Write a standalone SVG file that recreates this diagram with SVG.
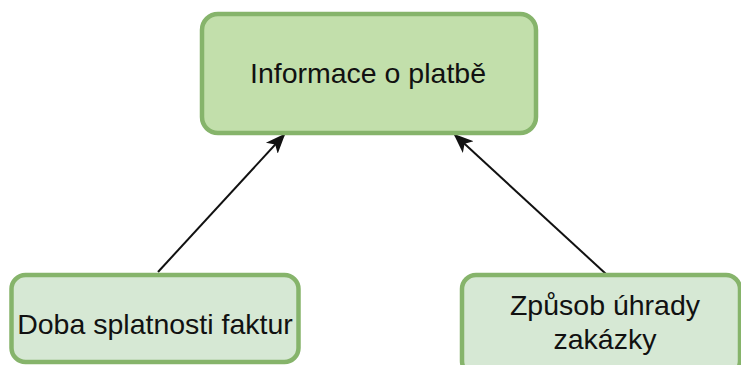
<svg xmlns="http://www.w3.org/2000/svg" width="741" height="365" viewBox="0 0 741 365">
  <style>
    .box { stroke: #86b46b; stroke-width: 4.5; }
    .main { fill: #c2dfab; }
    .sub { fill: #d6e8d4; }
    .label { font-family: "Liberation Sans", Arial, sans-serif; font-size: 28.5px; fill: #111; text-anchor: middle; }
    .edge { stroke: #111; stroke-width: 2; fill: none; marker-end: url(#arrowHead); }
  </style>
  <defs>
    <marker id="arrowHead" viewBox="0 0 20 20" refX="18" refY="10" markerWidth="20" markerHeight="20" markerUnits="userSpaceOnUse" orient="auto">
      <path d="M0,2 L20,10 L0,18 L5,10 Z" fill="#111"/>
    </marker>
  </defs>

  <g id="connectors">
    <line class="edge" x1="158" y1="272" x2="284" y2="135"/>
    <line class="edge" x1="606" y1="274" x2="455" y2="135"/>
  </g>

  <g id="informace-o-platbe">
    <rect class="box main" x="202" y="14" width="334" height="119" rx="16" ry="16"/>
    <text class="label" x="368" y="83">Informace o platbě</text>
  </g>

  <g id="doba-splatnosti">
    <rect class="box sub" x="11.5" y="275" width="287" height="87" rx="14" ry="14"/>
    <text class="label" x="155" y="334">Doba splatnosti faktur</text>
  </g>

  <g id="zpusob-uhrady">
    <rect class="box sub" x="462" y="275" width="278" height="100" rx="14" ry="14"/>
    <text class="label" x="605" y="315">Způsob úhrady</text>
    <text class="label" x="605" y="349">zakázky</text>
  </g>
</svg>
